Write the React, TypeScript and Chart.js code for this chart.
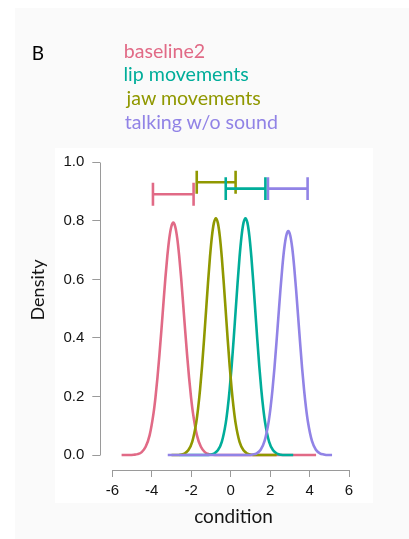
import React, { useEffect, useRef } from "react";
import { Chart, registerables } from "chart.js";
Chart.register(...registerables);

const SERIES_NAMES = ["baseline2", "lip movements", "jaw movements", "talking w/o sound"];
const SERIES_COLORS = ["#E16A86", "#00AD9A", "#909800", "#9183E6"];

const BASELINE2_X = [-5.53, -5.11, -4.91, -4.71, -4.51, -4.31, -4.11, -3.91, -3.81, -3.71, -3.61, -3.51, -3.41, -3.31, -3.21, -3.11, -3.01, -2.91, -2.81, -2.71, -2.61, -2.51, -2.41, -2.31, -2.21, -2.11, -2.01, -1.91, -1.71, -1.51, -1.31, -1.11, -0.91, -0.71, 4.33];
const BASELINE2_Y = [0, 0, 0.001, 0.003, 0.010, 0.028, 0.067, 0.143, 0.198, 0.265, 0.343, 0.428, 0.517, 0.604, 0.680, 0.741, 0.780, 0.794, 0.780, 0.741, 0.680, 0.604, 0.517, 0.428, 0.343, 0.265, 0.198, 0.143, 0.067, 0.028, 0.010, 0.003, 0.001, 0, 0];

const LIP_X = [-2.6, -1.25, -1.05, -0.85, -0.65, -0.45, -0.25, -0.15, -0.05, 0.05, 0.15, 0.25, 0.35, 0.45, 0.55, 0.65, 0.75, 0.85, 0.95, 1.05, 1.15, 1.25, 1.35, 1.45, 1.55, 1.65, 1.75, 1.95, 2.15, 2.35, 2.55, 2.75, 3.17];
const LIP_Y = [0, 0, 0.001, 0.005, 0.016, 0.045, 0.109, 0.160, 0.225, 0.304, 0.394, 0.491, 0.587, 0.676, 0.747, 0.793, 0.809, 0.793, 0.747, 0.676, 0.587, 0.491, 0.394, 0.304, 0.225, 0.160, 0.109, 0.045, 0.016, 0.005, 0.001, 0, 0];

const JAW_X = [-3.0, -2.75, -2.55, -2.35, -2.15, -1.95, -1.75, -1.65, -1.55, -1.45, -1.35, -1.25, -1.15, -1.05, -0.95, -0.85, -0.75, -0.65, -0.55, -0.45, -0.35, -0.25, -0.15, -0.05, 0.05, 0.15, 0.25, 0.45, 0.65, 0.85, 1.05, 1.25, 2.33];
const JAW_Y = [0, 0, 0.001, 0.005, 0.016, 0.045, 0.109, 0.160, 0.225, 0.304, 0.394, 0.491, 0.587, 0.676, 0.747, 0.793, 0.809, 0.793, 0.747, 0.676, 0.587, 0.491, 0.394, 0.304, 0.225, 0.160, 0.109, 0.045, 0.016, 0.005, 0.001, 0, 0];

const TALK_X = [-3.19, 0.92, 1.12, 1.32, 1.52, 1.72, 1.92, 2.02, 2.12, 2.22, 2.32, 2.42, 2.52, 2.62, 2.72, 2.82, 2.92, 3.02, 3.12, 3.22, 3.32, 3.42, 3.52, 3.62, 3.72, 3.82, 3.92, 4.12, 4.32, 4.52, 4.72, 4.92, 5.14];
const TALK_Y = [0, 0, 0.002, 0.006, 0.018, 0.048, 0.112, 0.161, 0.223, 0.298, 0.383, 0.473, 0.562, 0.643, 0.708, 0.750, 0.765, 0.750, 0.708, 0.643, 0.562, 0.473, 0.383, 0.298, 0.223, 0.161, 0.112, 0.048, 0.018, 0.006, 0.002, 0, 0];

// interval bars (same order as SERIES_NAMES)
const ERR_LOW = [-3.94, -0.25, -1.72, 1.89];
const ERR_HIGH = [-1.88, 1.76, 0.25, 3.90];
const ERR_Y = [0.891, 0.910, 0.932, 0.910];
const CAP_HALF = 0.039;

const X_TICKS = [-6, -4, -2, 0, 2, 4, 6];
const Y_TICKS = [0, 0.2, 0.4, 0.6, 0.8, 1.0];
const Y_TICK_LABELS = ["0.0", "0.2", "0.4", "0.6", "0.8", "1.0"];

const CURVES_X = [BASELINE2_X, LIP_X, JAW_X, TALK_X];
const CURVES_Y = [BASELINE2_Y, LIP_Y, JAW_Y, TALK_Y];
const CURVE_ORDER = [3, 2, 1, 0];

const AXIS_COLOR = "#9a9a9a";
const TEXT_COLOR = "#141414";

const bgPlugin = {
  id: "bgPlugin",
  beforeDraw(chart: any) {
    const ctx = chart.ctx;
    ctx.save();
    ctx.fillStyle = "#ffffff";
    ctx.fillRect(0, 0, chart.width, chart.height);
    ctx.fillStyle = "#fafafa";
    ctx.fillRect(15, 8, chart.width - 15, chart.height - 8);
    ctx.fillStyle = "#ffffff";
    ctx.fillRect(55, 148, 318, 355);
    ctx.restore();
  },
  afterDraw(chart: any) {
    const ctx = chart.ctx;
    const xs = chart.scales.x;
    const ys = chart.scales.y;
    const area = chart.chartArea;
    ctx.save();
    ctx.strokeStyle = AXIS_COLOR;
    ctx.lineWidth = 1;
    ctx.beginPath();
    const lx = Math.round(area.left) + 0.5;
    ctx.moveTo(lx, Math.round(ys.getPixelForValue(Y_TICKS[0])) + 0.5);
    ctx.lineTo(lx, Math.round(ys.getPixelForValue(Y_TICKS[Y_TICKS.length - 1])) + 0.5);
    const by = Math.round(area.bottom) + 0.5;
    ctx.moveTo(Math.round(xs.getPixelForValue(X_TICKS[0])) + 0.5, by);
    ctx.lineTo(Math.round(xs.getPixelForValue(X_TICKS[X_TICKS.length - 1])) + 0.5, by);
    ctx.stroke();
    ctx.restore();
  },
};

export default function App() {
  const ref = useRef<HTMLCanvasElement | null>(null);

  useEffect(() => {
    if (!ref.current) return;
    const datasets: any[] = [];
    SERIES_NAMES.forEach((name, i) => {
      datasets.push({
        label: name,
        data: CURVES_X[i].map((x, j) => ({ x, y: CURVES_Y[i][j] })),
        borderColor: SERIES_COLORS[i],
        backgroundColor: SERIES_COLORS[i],
        borderWidth: 2.6,
        pointRadius: 0,
        fill: false,
        cubicInterpolationMode: "monotone",
        order: CURVE_ORDER[i] + 1,
      });
    });
    SERIES_NAMES.forEach((name, i) => {
      const lo = ERR_LOW[i];
      const hi = ERR_HIGH[i];
      const y = ERR_Y[i];
      datasets.push({
        label: name + " interval",
        data: [
          { x: lo, y: y - CAP_HALF },
          { x: lo, y: y + CAP_HALF },
          { x: lo, y: null },
          { x: lo, y },
          { x: hi, y },
          { x: hi, y: null },
          { x: hi, y: y - CAP_HALF },
          { x: hi, y: y + CAP_HALF },
        ],
        borderColor: SERIES_COLORS[i],
        borderWidth: 2.6,
        pointRadius: 0,
        fill: false,
        spanGaps: false,
        tension: 0,
        order: 0,
      });
    });

    const chart = new Chart(ref.current, {
      type: "line",
      data: { datasets },
      plugins: [bgPlugin],
      options: {
        animation: false,
        responsive: false,
        maintainAspectRatio: false,
        events: [],
        layout: { padding: { top: 110, right: 42.3, bottom: 0, left: 0 } },
        plugins: { legend: { display: false }, tooltip: { enabled: false }, title: { display: false } },
        scales: {
          x: {
            type: "linear",
            position: "bottom",
            min: -6.609,
            max: 6.896,
            afterBuildTicks: (s: any) => {
              s.ticks = X_TICKS.map((v) => ({ value: v }));
            },
            afterFit: (s: any) => {
              s.height = 69;
            },
            grid: { display: true, drawOnChartArea: false, drawTicks: true, tickLength: 7, color: AXIS_COLOR, lineWidth: 1 },
            border: { display: false },
            ticks: {
              autoSkip: false,
              maxRotation: 0,
              padding: 5,
              color: TEXT_COLOR,
              font: { family: "'Liberation Sans', Arial, sans-serif", size: 15 },
              callback: (v: any) => String(v),
            },
            title: {
              display: true,
              text: "condition",
              color: TEXT_COLOR,
              font: { family: "Lato, 'Open Sans', sans-serif", size: 19 },
              padding: { top: 0, bottom: 10.6 },
            },
          },
          y: {
            type: "linear",
            position: "left",
            min: -0.0512,
            max: 1.1787,
            afterBuildTicks: (s: any) => {
              s.ticks = Y_TICKS.map((v) => ({ value: v }));
            },
            afterFit: (s: any) => {
              s.width = 100.3;
            },
            grid: { display: true, drawOnChartArea: false, drawTicks: true, tickLength: 8, color: AXIS_COLOR, lineWidth: 1 },
            border: { display: false },
            ticks: {
              autoSkip: false,
              padding: 8,
              color: TEXT_COLOR,
              font: { family: "'Liberation Sans', Arial, sans-serif", size: 15 },
              callback: (v: any) => {
                const k = Y_TICKS.findIndex((t) => Math.abs(t - Number(v)) < 1e-9);
                return k >= 0 ? Y_TICK_LABELS[k] : "";
              },
            },
            title: {
              display: true,
              text: "Density",
              color: TEXT_COLOR,
              font: { family: "Lato, 'Open Sans', sans-serif", size: 18 },
              padding: { top: 27.2, bottom: 0 },
            },
          },
        },
      },
    });
    return () => chart.destroy();
  }, []);

  const legendTops = [41, 63.7, 87.7, 111.7];
  const legendLefts = [123.7, 123.5, 126.5, 124.8];

  return (
    <div style={{ position: "absolute", left: 0, top: 0, width: 409, height: 539, overflow: "hidden" }}>
      <canvas ref={ref} width={409} height={539} style={{ position: "absolute", left: 0, top: 0, width: 409, height: 539 }} />
      <div
        style={{
          position: "absolute",
          left: 31.8,
          top: 43,
          fontFamily: "Lato, 'Open Sans', sans-serif",
          fontSize: 19,
          lineHeight: "19px",
          color: "#000",
          whiteSpace: "nowrap",
        }}
      >
        B
      </div>
      {SERIES_NAMES.map((name, i) => (
        <div
          key={name}
          style={{
            position: "absolute",
            left: legendLefts[i],
            top: legendTops[i],
            fontFamily: "Lato, 'Open Sans', sans-serif",
            fontSize: 19.6,
            lineHeight: "19.6px",
            color: SERIES_COLORS[i],
            whiteSpace: "nowrap",
          }}
        >
          {name}
        </div>
      ))}
    </div>
  );
}
